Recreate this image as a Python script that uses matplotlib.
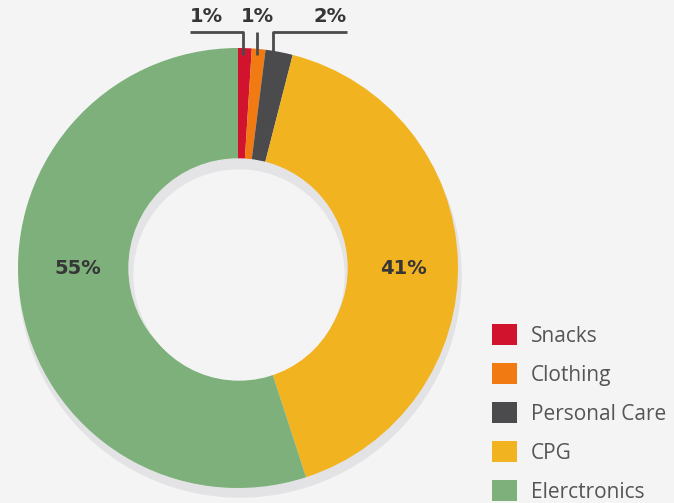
import matplotlib
matplotlib.use("Agg")
import matplotlib.pyplot as plt
from matplotlib.patches import Circle

categories = ["Snacks", "Clothing", "Personal Care", "CPG", "Elerctronics"]
shares = [1, 1, 2, 41, 55]
colors = ["#D2132E", "#F27A12", "#4B4B4D", "#F2B320", "#7DB07A"]

BG = "#F4F4F5"
W, H = 674, 503

fig = plt.figure(figsize=(W / 100, H / 100), dpi=100, facecolor=BG)
ax = fig.add_axes([0, 0, 1, 1])
ax.set_xlim(0, W)
ax.set_ylim(0, H)
ax.set_aspect("equal")
ax.axis("off")

cx, cy = 238, H - 268
r_out, r_in = 220, 109

# soft drop shadow below the ring
ax.add_patch(Circle((cx + 2, cy - 8), r_out + 1, color="#E3E3E6", zorder=1))

wedges, _ = ax.pie(shares, colors=colors, startangle=90, counterclock=False,
                   radius=r_out, center=(cx, cy),
                   wedgeprops=dict(width=r_out - r_in, linewidth=0),
                   frame=True)
for w in wedges:
    w.set_zorder(2)
ax.set_xlim(0, W)
ax.set_ylim(0, H)
ax.axis("off")

# inner shadow inside the hole
ax.add_patch(Circle((cx, cy), r_in, color="#E4E4E7", zorder=3))
ax.add_patch(Circle((cx + 1, cy - 7), r_in - 4, color=BG, zorder=4))

lab_kw = dict(fontsize=14, fontweight="bold", color="#363636",
              ha="center", va="center", family="DejaVu Sans", zorder=6)
ax.text(cx - 160, cy, f"{shares[4]}%", **lab_kw)
ax.text(cx + 165, cy, f"{shares[3]}%", **lab_kw)

# leader lines for the thin slices
line_kw = dict(color="#4B4B4D", lw=2, zorder=5, solid_capstyle="butt")
ytop = H - 32
ax.plot([190, 243, 243], [ytop, ytop, H - 55], **line_kw)
ax.plot([257, 257], [ytop, H - 55], **line_kw)
ax.plot([347, 273, 273], [ytop, ytop, H - 57], **line_kw)
ax.text(206, H - 16, f"{shares[0]}%", **lab_kw)
ax.text(257, H - 16, f"{shares[1]}%", **lab_kw)
ax.text(330, H - 16, f"{shares[2]}%", **lab_kw)

leg = ax.legend(wedges, categories, loc="upper left",
                bbox_to_anchor=(492 / W, 1 - 324 / H), frameon=False,
                prop=dict(family="Open Sans", size=15),
                handlelength=1.2, handleheight=1.2, handletextpad=0.65,
                labelspacing=0.78, borderpad=0, borderaxespad=0)
for t in leg.get_texts():
    t.set_color("#555558")

fig.savefig("out.png", dpi=100, facecolor=BG)
